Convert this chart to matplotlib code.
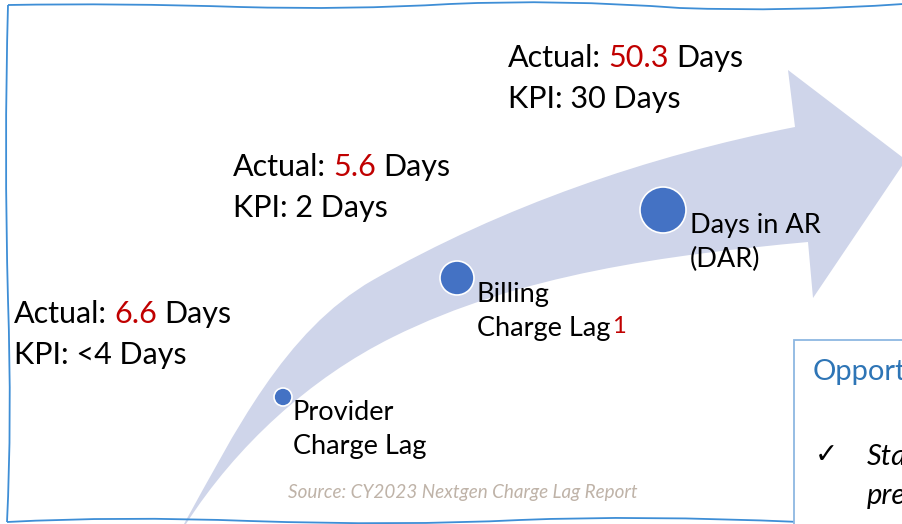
import matplotlib.pyplot as plt
from matplotlib.patches import PathPatch, Circle, Rectangle
from matplotlib.path import Path

# --- data ---
stages = ["Provider\nCharge Lag", "Billing\nCharge Lag", "Days in AR\n(DAR)"]
actual_days = ["6.6", "5.6", "50.3"]
kpi_labels = ["KPI: <4 Days", "KPI: 2 Days", "KPI: 30 Days"]
source_note = "Source: CY2023 Nextgen Charge Lag Report"
box_title = "Opportunities"
box_lines = ["Standardize", "prebilling"]

# --- layout (pixel coords, y down) ---
dot_xy = [(283, 397), (457, 278), (663, 210)]
dot_r = [9, 17, 23]
label_xy = [(293, 420), (477, 302), (690, 233)]
value_xy = [(14, 323), (233, 176), (508, 67)]

BAND = "#CFD5EA"
DOT = "#4472C4"
RED = "#C00000"
FRAME = "#3E8ED6"

plt.rcParams['font.family'] = ['Lato', 'DejaVu Sans']

fig = plt.figure(figsize=(9.03, 5.24), dpi=100)
ax = fig.add_axes([0, 0, 1, 1])
ax.set_xlim(0, 903)
ax.set_ylim(524, 0)
ax.axis('off')

# curved arrow band
C4 = Path.CURVE4
verts = [(184, 524),
         (234, 434), (284, 331), (373, 280),
         (503, 206), (648, 156), (795, 127),
         (788, 70), (906, 160), (813, 298), (808, 242),
         (667, 255), (520, 274), (393, 337),
         (310, 378), (236, 446), (186, 524),
         (184, 524)]
codes = [Path.MOVETO, C4, C4, C4, C4, C4, C4,
         Path.LINETO, Path.LINETO, Path.LINETO, Path.LINETO,
         C4, C4, C4, C4, C4, C4, Path.CLOSEPOLY]
ax.add_patch(PathPatch(Path(verts, codes), facecolor=BAND, edgecolor='none', zorder=1))

# wavy frame
C3 = Path.CURVE3
top = Path([(8, 5), (120, 3), (240, 7), (350, 10), (450, 4), (560, -1), (680, 8), (790, 12), (903, 4)],
           [Path.MOVETO, C3, C3, C3, C3, C3, C3, C3, C3])
left = Path([(8, 5), (4, 150), (8, 300), (12, 420), (7, 522)],
            [Path.MOVETO, C3, C3, C3, C3])
bottom = Path([(7, 522), (120, 516), (250, 521), (400, 526), (520, 520), (640, 515), (800, 522)],
              [Path.MOVETO, C3, C3, C3, C3, C3, C3])
for p in (top, left, bottom):
    ax.add_patch(PathPatch(p, facecolor='none', edgecolor=FRAME, lw=1.3, zorder=2))

# dots and stage labels
for (x, y), r, (lx, ly), name in zip(dot_xy, dot_r, label_xy, stages):
    ax.add_patch(Circle((x, y), r, facecolor=DOT, edgecolor='white', lw=1.2, zorder=3))
    first, second = name.split("\n")
    ax.text(lx, ly, first, fontsize=19.5, va='baseline', ha='left', zorder=4)
    t = ax.text(lx, ly + 34, second, fontsize=19.5, va='baseline', ha='left', zorder=4)
    if first == "Billing":
        ax.annotate("1", xy=(1, 1), xycoords=t, xytext=(1, 0), textcoords='offset points',
                    color=RED, fontsize=17, va='top', ha='left', zorder=4)

# actual / KPI text
fs = 22
for (x, y), val, kpi in zip(value_xy, actual_days, kpi_labels):
    t1 = ax.text(x, y, "Actual:", fontsize=fs, va='baseline', ha='left')
    t2 = ax.annotate(val, xy=(1, 0), xycoords=t1, xytext=(fs * 0.24, 0), textcoords='offset points',
                     color=RED, fontsize=fs, va='bottom', ha='left')
    ax.annotate("Days", xy=(1, 0), xycoords=t2, xytext=(fs * 0.24, 0), textcoords='offset points',
                fontsize=fs, va='bottom', ha='left')
    ax.text(x, y + 41, kpi, fontsize=fs, va='baseline', ha='left')

ax.text(288, 498, source_note, fontsize=13.6, style='italic', color='#BFB3A8', va='baseline', ha='left')

# opportunities box (cut off at the right edge, as on the slide)
ax.add_patch(Rectangle((794, 340), 200, 250, facecolor='white', edgecolor='#8DB8E2', lw=1.3, zorder=5))
ax.text(813, 380, box_title, fontsize=21, color='#2E75B6', va='baseline', ha='left', zorder=6, clip_on=True)
ax.text(815, 463, "\u2713", fontsize=20, family=['DejaVu Sans'], va='baseline', ha='left', zorder=6)
ax.text(867, 465, box_lines[0], fontsize=21, style='italic', va='baseline', ha='left', zorder=6, clip_on=True)
ax.text(867, 504, box_lines[1], fontsize=21, style='italic', va='baseline', ha='left', zorder=6, clip_on=True)

fig.savefig("out.png", dpi=100)
